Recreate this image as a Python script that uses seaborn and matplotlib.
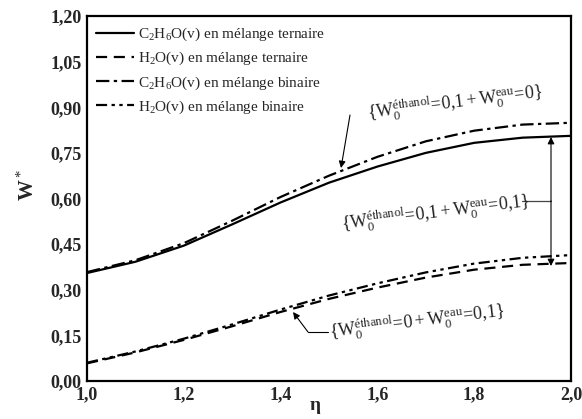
import matplotlib
matplotlib.use("Agg")
import matplotlib.pyplot as plt
import numpy as np
import pandas as pd
import seaborn as sns
from matplotlib.ticker import MultipleLocator, FuncFormatter

# ---- data ----
eta = [1.0, 1.1, 1.2, 1.3, 1.4, 1.5, 1.6, 1.7, 1.8, 1.9, 2.0]
c2h6o_ternaire = [0.355, 0.392, 0.445, 0.515, 0.587, 0.652, 0.705, 0.750, 0.783, 0.800, 0.806]
h2o_ternaire = [0.058, 0.094, 0.135, 0.180, 0.227, 0.270, 0.307, 0.340, 0.366, 0.382, 0.388]
c2h6o_binaire = [0.358, 0.397, 0.453, 0.527, 0.605, 0.675, 0.737, 0.788, 0.823, 0.843, 0.849]
h2o_binaire = [0.060, 0.097, 0.139, 0.186, 0.235, 0.281, 0.321, 0.357, 0.386, 0.405, 0.414]

series_labels = [
    r"C$_2$H$_6$O(v) en mélange ternaire",
    r"H$_2$O(v) en mélange ternaire",
    r"C$_2$H$_6$O(v) en mélange binaire",
    r"H$_2$O(v) en mélange binaire",
]
x_ticks = [1.0, 1.2, 1.4, 1.6, 1.8, 2.0]
y_ticks = [0.00, 0.15, 0.30, 0.45, 0.60, 0.75, 0.90, 1.05, 1.20]

ann_top = r"$\{\mathrm{W}_0^{\mathrm{éthanol}}\!=\!0{,}1 + \mathrm{W}_0^{\mathrm{eau}}\!=\!0\}$"
ann_mid = r"$\{\mathrm{W}_0^{\mathrm{éthanol}}\!=\!0{,}1 + \mathrm{W}_0^{\mathrm{eau}}\!=\!0{,}1\}$"
ann_low = r"$\{\mathrm{W}_0^{\mathrm{éthanol}}\!=\!0 + \mathrm{W}_0^{\mathrm{eau}}\!=\!0{,}1\}$"

# ---- style ----
sns.set_style("white")
plt.rcParams["font.family"] = ["Liberation Serif", "DejaVu Serif"]
plt.rcParams["mathtext.fontset"] = "custom"
plt.rcParams["mathtext.rm"] = "Liberation Serif"
plt.rcParams["mathtext.it"] = "Liberation Serif:italic"
plt.rcParams["mathtext.bf"] = "Liberation Serif:bold"

fig = plt.figure(figsize=(5.82, 4.19), dpi=100)
ax = fig.add_axes([0.1495, 0.0907, 0.8316, 0.8711])

styles = ["-", (0, (5, 3)), (0, (6, 2, 1.5, 2)), (0, (5, 2, 1.5, 2, 1.5, 2))]
data = [c2h6o_ternaire, h2o_ternaire, c2h6o_binaire, h2o_binaire]
for vals, ls, lab in zip(data, styles, series_labels):
    df = pd.DataFrame({"eta": eta, "w": vals})
    sns.lineplot(data=df, x="eta", y="w", ax=ax, color="black", lw=1.6,
                 linestyle=ls, label=lab)

ax.set_xlim(1.0, 2.0)
ax.set_ylim(0.0, 1.2)
ax.set_xticks(x_ticks)
ax.set_yticks(y_ticks)
ax.xaxis.set_minor_locator(MultipleLocator(0.1))
ax.yaxis.set_minor_locator(MultipleLocator(0.075))
ax.xaxis.set_major_formatter(FuncFormatter(lambda v, p: f"{v:.1f}".replace(".", ",")))
ax.yaxis.set_major_formatter(FuncFormatter(lambda v, p: f"{v:.2f}".replace(".", ",")))
ax.tick_params(which="both", direction="in", top=False, right=False, color="black",
               width=1.2)
ax.tick_params(which="major", length=5, labelsize=13, pad=4)
ax.tick_params(which="minor", length=3)
for t in ax.get_xticklabels() + ax.get_yticklabels():
    t.set_fontweight("bold")
for s in ax.spines.values():
    s.set_linewidth(1.6)
    s.set_color("black")

ax.set_xlabel("η", fontsize=14, fontweight="bold")
ax.set_ylabel(r"W$^*$", fontsize=15, fontweight="bold")
ax.xaxis.set_label_coords(0.471, -0.045)
ax.yaxis.set_label_coords(-0.10, 0.537)

h, l = ax.get_legend_handles_labels()
ax.legend(h, l, loc="upper left", bbox_to_anchor=(0.005, 0.99), frameon=False,
          fontsize=11, handlelength=2.5, handletextpad=0.25, labelspacing=0.45,
          borderaxespad=0.0)

# ---- annotations ----
def px(x, y):
    return (1 + (x - 87) / 484, (381 - y) / 304.2)

txt_kw = dict(fontsize=13, color="#222222", rotation=7, rotation_mode="anchor",
              ha="center", va="center")
arr = dict(arrowstyle="-|>", color="black", lw=0.8, mutation_scale=10,
           shrinkA=0, shrinkB=0)

ax.text(*px(455, 103), ann_top, **txt_kw)
ax.annotate("", xy=px(341, 168), xytext=px(350, 115), arrowprops=arr)

ax.text(*px(436, 213), ann_mid, **txt_kw)
ax.plot(*zip(px(522, 201), px(551, 201)), color="#444444", lw=0.9)
ax.annotate("", xy=px(551, 137), xytext=px(551, 201), arrowprops=arr)
ax.annotate("", xy=px(551, 266), xytext=px(551, 201), arrowprops=arr)

ax.text(*px(417, 322), ann_low, **txt_kw)
ax.plot(*zip(px(328, 332), px(308, 332)), color="black", lw=0.8)
ax.annotate("", xy=px(293, 312), xytext=px(308, 332), arrowprops=arr)

fig.savefig("out.png", dpi=100)
